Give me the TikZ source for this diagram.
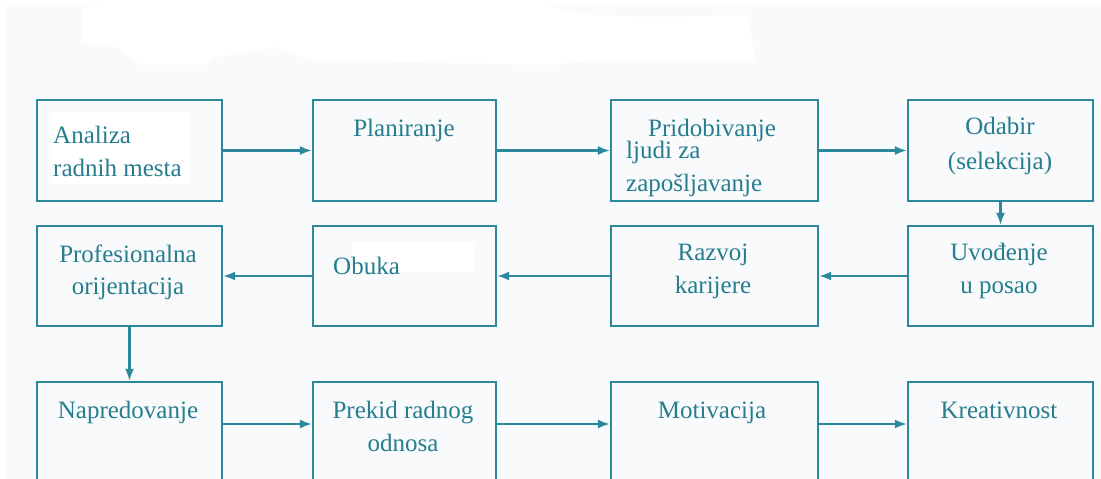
\documentclass[tikz,border=0pt]{standalone}
\usepackage{fontspec}
\setmainfont{Liberation Serif}
\usetikzlibrary{arrows.meta,calc}
\definecolor{bgc}{RGB}{248,250,252}
\definecolor{teal1}{RGB}{43,137,155}
\definecolor{tealtxt}{RGB}{38,125,142}
\begin{document}
\begin{tikzpicture}[x=1pt,y=-1pt,
  box/.style={draw=teal1,line width=2.2pt,rectangle,inner sep=0pt,minimum height=100pt},
  lbl/.style={text=tealtxt,font=\fontsize{25}{30}\selectfont,inner sep=0pt},
  conn/.style={draw=teal1,line width=2.2pt,-{Latex[length=12pt,width=9pt]}}]
\useasboundingbox (0,0) rectangle (1101,479);
\fill[bgc] (6,5) rectangle (1101,479);
% white patches
\fill[white] (81,7) -- (105,5) -- (544,5) -- (590,15) -- (653,17) -- (748,15) -- (755,60) -- (597,60) -- (551,65) -- (309,60) -- (274,47) -- (211,58) -- (207,65) -- (140,65) -- (119,48) -- (81,43) -- cycle;
\fill[white] (52,112) rectangle (190,184);
\fill[white] (352,242) rectangle (475,272);
% boxes
\node[box,minimum width=185pt,minimum height=101pt] (b1) at (129.5,150.5) {};
\node[box,minimum width=183pt,minimum height=101pt] (b2) at (404.5,150.5) {};
\node[box,minimum width=207pt,minimum height=101pt] (b3) at (714.5,150.5) {};
\node[box,minimum width=185pt,minimum height=101pt] (b4) at (1000.5,150.5) {};
\node[box,minimum width=185pt] (c1) at (129.5,276) {};
\node[box,minimum width=183pt] (c2) at (404.5,276) {};
\node[box,minimum width=207pt] (c3) at (714.5,276) {};
\node[box,minimum width=185pt] (c4) at (1000.5,276) {};
\node[box,minimum width=185pt] (d1) at (129.5,432) {};
\node[box,minimum width=183pt] (d2) at (404.5,432) {};
\node[box,minimum width=207pt] (d3) at (714.5,432) {};
\node[box,minimum width=185pt] (d4) at (1000.5,432) {};
% texts
\node[lbl,anchor=mid west] (t1a) at (53,141) {Analiza};
\node[lbl,anchor=mid west] (t1b) at (53,174) {radnih mesta};
\node[lbl,anchor=mid] (t2) at (404,134) {Planiranje};
\node[lbl,anchor=mid] (t3a) at (712,134) {Pridobivanje};
\node[lbl,anchor=mid west] (t3b) at (626,156) {ljudi za};
\node[lbl,anchor=mid west] (t3c) at (626,189) {zapošljavanje};
\node[lbl,anchor=mid] (t4a) at (1000,132) {Odabir};
\node[lbl,anchor=mid] (t4b) at (1000,167) {(selekcija)};
\node[lbl,anchor=mid] (u1a) at (128,260) {Profesionalna};
\node[lbl,anchor=mid] (u1b) at (128,292) {orijentacija};
\node[lbl,anchor=mid west] (u2) at (333,272) {Obuka};
\node[lbl,anchor=mid] (u3a) at (713,258) {Razvoj};
\node[lbl,anchor=mid] (u3b) at (713,291) {karijere};
\node[lbl,anchor=mid] (u4a) at (999,258) {Uvođenje};
\node[lbl,anchor=mid] (u4b) at (999,291) {u posao};
\node[lbl,anchor=mid] (v1) at (128,416) {Napredovanje};
\node[lbl,anchor=mid] (v2a) at (403,416) {Prekid radnog};
\node[lbl,anchor=mid] (v2b) at (403,449) {odnosa};
\node[lbl,anchor=mid] (v3) at (712,416) {Motivacija};
\node[lbl,anchor=mid] (v4) at (999,416) {Kreativnost};
% connectors
\draw[conn] (b1) -- (b2);
\draw[conn] (b2) -- (b3);
\draw[conn] (b3) -- (b4);
\draw[conn] (b4) -- (c4);
\draw[conn] (c4) -- (c3);
\draw[conn] (c3) -- (c2);
\draw[conn] (c2) -- (c1);
\draw[conn] (c1) -- (d1);
\coordinate (r3) at (0,424);
\draw[conn] (d1.east |- r3) -- (d2.west |- r3);
\draw[conn] (d2.east |- r3) -- (d3.west |- r3);
\draw[conn] (d3.east |- r3) -- (d4.west |- r3);
\end{tikzpicture}
\end{document}
